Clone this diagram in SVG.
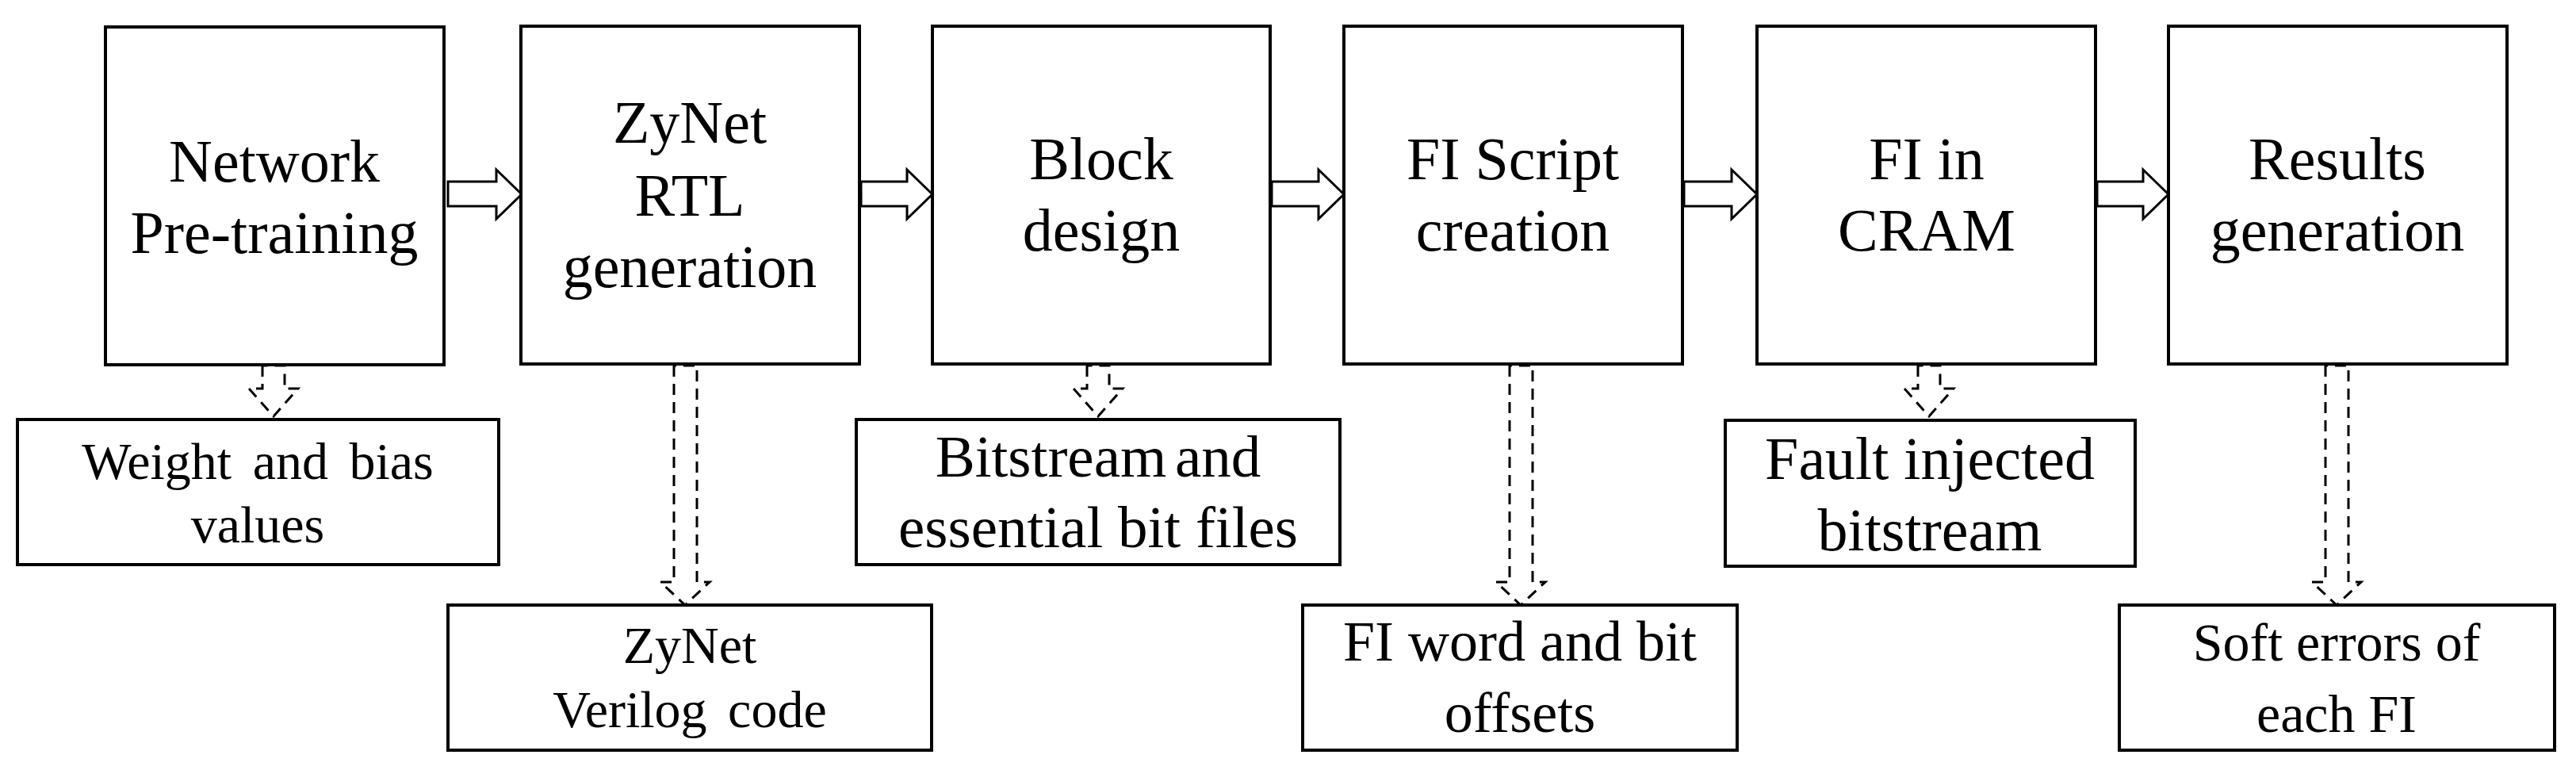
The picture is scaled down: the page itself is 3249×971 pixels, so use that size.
<svg xmlns="http://www.w3.org/2000/svg" width="3249" height="971" viewBox="0 0 3249 971">
<style>
.b{fill:#fff;stroke:#000;stroke-width:4}
.t{font-family:"Liberation Serif","Times New Roman",serif;font-size:76px;text-anchor:middle;fill:#000}
.s{font-family:"Liberation Serif","Times New Roman",serif;font-size:70px;text-anchor:middle;fill:#000}
.a{fill:#fff;stroke:#000;stroke-width:3}
.d{fill:none;stroke:#000;stroke-width:3;stroke-dasharray:14 9}
</style>
<rect width="3249" height="971" fill="#fff"/>
<g id="connectors">
<path class="a" d="M565,229 H626 V214 L658,245 L626,276 V260 H565 Z"/>
<path class="a" d="M1086,229 H1144 V214 L1176,245 L1144,276 V260 H1086 Z"/>
<path class="a" d="M1604,229 H1663 V214 L1695,245 L1663,276 V260 H1604 Z"/>
<path class="a" d="M2124,229 H2184 V214 L2216,245 L2184,276 V260 H2124 Z"/>
<path class="a" d="M2645,229 H2703 V214 L2735,245 L2703,276 V260 H2645 Z"/>
<path class="d" d="M331,461 V490 L314,490 L345,525 L376,490 L359,490 V461 Z"/>
<path class="d" d="M850,461 V734 L833,734 L864,763 L895,734 L879,734 V461 Z"/>
<path class="d" d="M1371,461 V490 L1354,490 L1385,525 L1416,490 L1399,490 V461 Z"/>
<path class="d" d="M1904,461 V734 L1887,734 L1918,763 L1949,734 L1933,734 V461 Z"/>
<path class="d" d="M2419,461 V490 L2402,490 L2433,525 L2464,490 L2447,490 V461 Z"/>
<path class="d" d="M2933,461 V734 L2916,734 L2947,763 L2978,734 L2962,734 V461 Z"/>
</g>
<g id="n1"><rect class="b" x="133" y="34" width="427" height="426"/><text class="t" x="346" y="229">Network</text><text class="t" x="346" y="319">Pre-training</text></g>
<g id="n2"><rect class="b" x="657" y="33" width="427" height="426"/><text class="t" x="870" y="180">ZyNet</text><text class="t" x="870" y="272">RTL</text><text class="t" x="870" y="362">generation</text></g>
<g id="n3"><rect class="b" x="1176" y="33" width="426" height="426"/><text class="t" x="1389" y="226">Block</text><text class="t" x="1389" y="316">design</text></g>
<g id="n4"><rect class="b" x="1695" y="33" width="427" height="426"/><text class="t" x="1908" y="226">FI Script</text><text class="t" x="1908" y="316">creation</text></g>
<g id="n5"><rect class="b" x="2216" y="33" width="427" height="426"/><text class="t" x="2430" y="226">FI in</text><text class="t" x="2430" y="316">CRAM</text></g>
<g id="n6"><rect class="b" x="2735" y="33" width="427" height="426"/><text class="t" x="2948" y="226">Results</text><text class="t" x="2948" y="316">generation</text></g>
<g id="o1"><rect class="b" x="22" y="529" width="607" height="183"/><text class="s" x="325" y="604" style="font-size:66px" word-spacing="10">Weight and bias</text><text class="s" x="325" y="684" style="font-size:66px">values</text></g>
<g id="o2"><rect class="b" x="565" y="763" width="610" height="183"/><text class="s" x="870" y="836" style="font-size:66px">ZyNet</text><text class="s" x="870" y="917" style="font-size:66px" word-spacing="10">Verilog code</text></g>
<g id="o3"><rect class="b" x="1080" y="529" width="610" height="183"/><text class="s" x="1385" y="601" style="font-size:75px" word-spacing="-8">Bitstream and</text><text class="s" x="1385" y="690" style="font-size:75px">essential bit files</text></g>
<g id="o4"><rect class="b" x="1643" y="763" width="548" height="183"/><text class="s" x="1917" y="833" style="font-size:72px">FI word and bit</text><text class="s" x="1917" y="923" style="font-size:72px">offsets</text></g>
<g id="o5"><rect class="b" x="2176" y="530" width="517" height="184"/><text class="s" x="2434" y="604" style="font-size:76px">Fault injected</text><text class="s" x="2434" y="694" style="font-size:76px">bitstream</text></g>
<g id="o6"><rect class="b" x="2673" y="763" width="549" height="183"/><text class="s" x="2947" y="833" style="font-size:68px">Soft errors of</text><text class="s" x="2947" y="923" style="font-size:68px">each FI</text></g>
</svg>
